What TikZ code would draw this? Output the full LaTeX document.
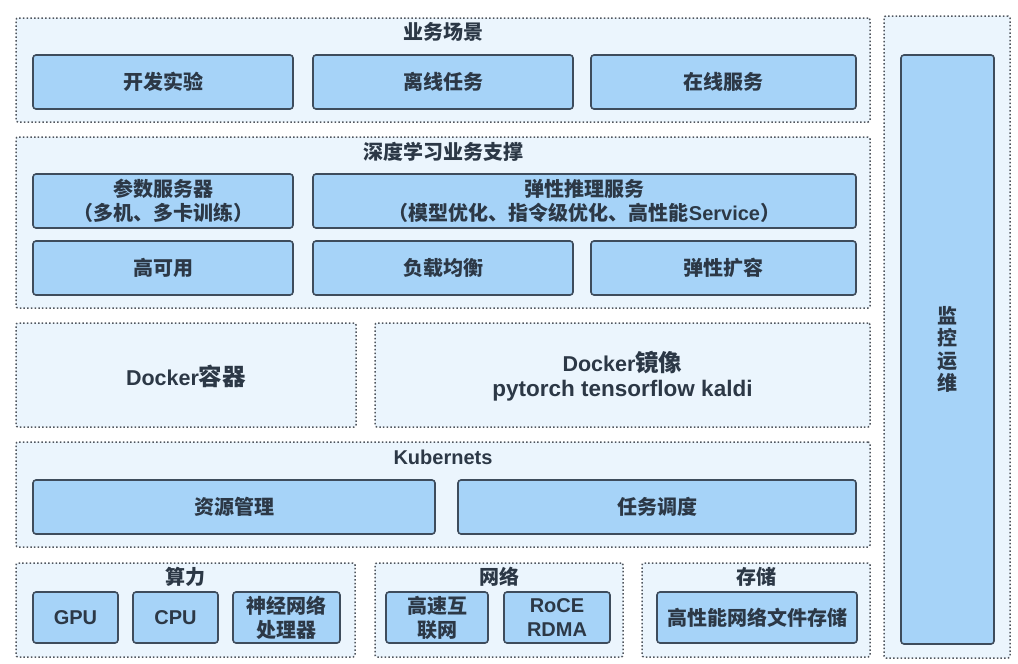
\documentclass[tikz,border=0pt]{standalone}
\usepackage{fontspec}
\setmainfont{Noto Sans CJK SC}
\newfontfamily\latf{Liberation Sans}
\newcommand\lt[1]{{\latf\bfseries #1}}
\definecolor{contfill}{RGB}{235,245,253}
\definecolor{dotcol}{RGB}{80,86,94}
\definecolor{boxfill}{RGB}{166,211,248}
\definecolor{boxline}{RGB}{62,76,92}
\definecolor{txt}{RGB}{44,56,70}
\tikzset{
  cont/.style={draw=dotcol, fill=contfill, line width=1.5pt, dash pattern=on 1.5pt off 2.2pt, rounded corners=2pt, inner sep=0pt},
  box/.style={draw=boxline, fill=boxfill, line width=1.6pt, rounded corners=3pt, inner sep=0pt, text=txt, align=center, font=\fontsize{20}{24}\selectfont\bfseries},
  ttl/.style={text=txt, inner sep=0pt, align=center, font=\fontsize{20}{24}\selectfont\bfseries},
  big/.style={text=txt, inner sep=0pt, align=center, font=\fontsize{23.5}{26}\selectfont\bfseries}
}
\begin{document}
\begin{tikzpicture}[x=1pt,y=-1pt]
\useasboundingbox[fill=white] (0,0) rectangle (1018,664);
% containers
\node[cont, minimum width=854pt, minimum height=104pt] (c1) at (443,70) {};
\node[cont, minimum width=854pt, minimum height=171pt] (c2) at (443,222.5) {};
\node[cont, minimum width=340pt, minimum height=104pt] (c3) at (186,375) {};
\node[cont, minimum width=495pt, minimum height=104pt] (c4) at (622.5,375) {};
\node[cont, minimum width=854pt, minimum height=105pt] (c5) at (443,494.5) {};
\node[cont, minimum width=339pt, minimum height=94pt] (c6) at (185.5,610) {};
\node[cont, minimum width=248pt, minimum height=94pt] (c7) at (499,610) {};
\node[cont, minimum width=228pt, minimum height=94pt] (c8) at (756,610) {};
\node[cont, minimum width=126pt, minimum height=642pt] (c9) at (947,337) {};
% titles
\node[ttl] (t1) at (443,32) {业务场景};
\node[ttl] (t2) at (443,152) {深度学习业务支撑};
\node[ttl] (t5) at (443,457) {\lt{Kubernets}};
\node[ttl] (t6) at (185.5,577) {算力};
\node[ttl] (t7) at (499,577) {网络};
\node[ttl] (t8) at (756,577) {存储};
\node[big] (d1) at (186,376) {{\latf\fontsize{21.5}{26}\selectfont\bfseries Docker}容器};
\node[big] (d2) at (622.5,376) {{\latf\fontsize{21.5}{26}\selectfont\bfseries Docker}镜像\\[-1pt]{\latf\fontsize{22.5}{26}\selectfont\bfseries pytorch tensorflow kaldi}};
% row 1
\node[box, minimum width=260pt, minimum height=54pt] (b11) at (163,82) {开发实验};
\node[box, minimum width=260pt, minimum height=54pt] (b12) at (443,82) {离线任务};
\node[box, minimum width=265pt, minimum height=54pt] (b13) at (723.5,82) {在线服务};
% row 2
\node[box, minimum width=260pt, minimum height=54pt] (b21) at (163,201) {参数服务器\\（多机、多卡训练）};
\node[box, minimum width=543pt, minimum height=54pt] (b22) at (584.5,201) {弹性推理服务\\（模型优化、指令级优化、高性能\lt{Service}）};
% row 3
\node[box, minimum width=260pt, minimum height=54pt] (b31) at (163,268) {高可用};
\node[box, minimum width=260pt, minimum height=54pt] (b32) at (443,268) {负载均衡};
\node[box, minimum width=265pt, minimum height=54pt] (b33) at (723.5,268) {弹性扩容};
% kubernetes
\node[box, minimum width=402pt, minimum height=54pt] (k1) at (234,507) {资源管理};
\node[box, minimum width=398pt, minimum height=54pt] (k2) at (657,507) {任务调度};
% bottom
\node[box, minimum width=85pt, minimum height=51pt] (g1) at (75.5,617.5) {\lt{GPU}};
\node[box, minimum width=85pt, minimum height=51pt] (g2) at (175.5,617.5) {\lt{CPU}};
\node[box, minimum width=107pt, minimum height=51pt] (g3) at (286.5,617.5) {神经网络\\处理器};
\node[box, minimum width=102pt, minimum height=51pt] (n1) at (437,617.5) {高速互\\联网};
\node[box, minimum width=106pt, minimum height=51pt] (n2) at (557,617.5) {\lt{RoCE}\\\lt{RDMA}};
\node[box, minimum width=200pt, minimum height=51pt] (s1) at (757,617.5) {高性能网络文件存储};
% monitoring
\node[box, minimum width=93pt, minimum height=589pt, font=\fontsize{20}{22.5}\selectfont\bfseries] (m1) at (947.5,349.5) {监\\控\\运\\维};
\end{tikzpicture}
\end{document}
